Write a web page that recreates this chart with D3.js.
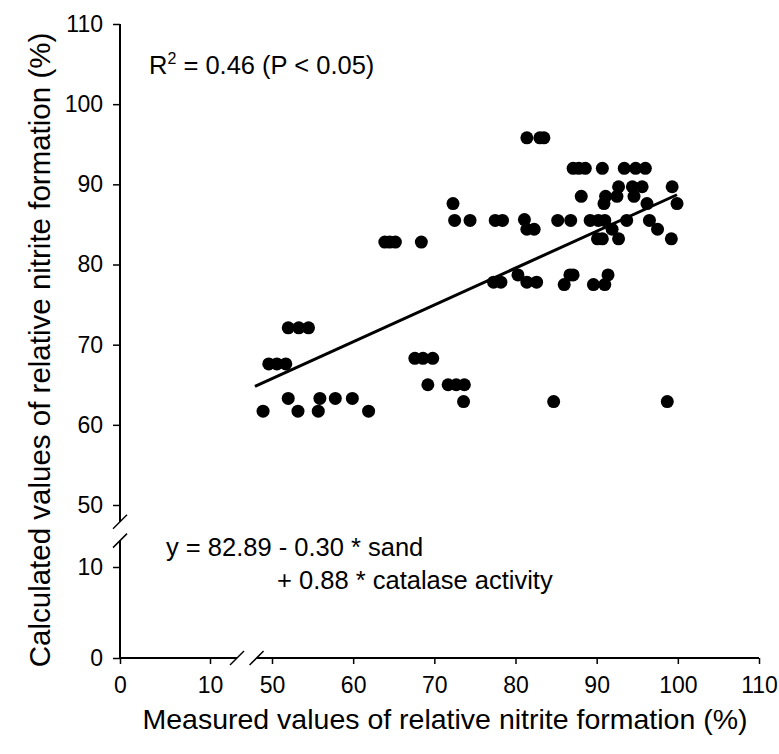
<!DOCTYPE html>
<html>
<head>
<meta charset="utf-8">
<script src="https://cdn.jsdelivr.net/npm/d3@7"></script>
<style>
  html, body { margin: 0; padding: 0; background: #fff; }
  svg { display: block; font-family: "Liberation Sans", Arial, Helvetica, sans-serif; }
</style>
</head>
<body>
<svg id="chart" width="779" height="754"></svg>
<script>
// ---- data ----
const xLowTicks = [0, 10];
const xHighTicks = [50, 60, 70, 80, 90, 100, 110];
const yLowTicks = [0, 10];
const yHighTicks = [50, 60, 70, 80, 90, 100, 110];

const measured = [
  81.4, 83.0, 83.5,
  87.1, 87.8, 88.6, 90.7, 93.4, 94.8, 96.0,
  92.7, 94.4, 95.6, 99.3,
  88.1, 91.1, 92.5, 94.6,
  72.3, 90.9, 96.2, 99.9,
  72.5, 74.4, 77.5, 78.4, 81.1, 85.2, 86.8, 89.2, 90.2, 91.0, 93.7, 96.5,
  81.4, 82.3, 91.9, 97.5,
  90.1, 90.7, 92.7, 99.2,
  63.9, 64.5, 65.2, 68.4,
  80.3, 86.7, 87.1, 91.4,
  77.3, 78.2, 81.4, 82.6,
  86.0, 89.6, 91.0,
  52.0, 53.3, 54.5,
  67.6, 68.6, 69.8,
  49.6, 50.6, 51.7,
  69.2, 71.7, 72.7, 73.7,
  52.0, 55.9, 57.8, 59.9,
  73.6, 84.7, 98.7,
  48.9, 53.2, 55.7, 61.9
];
const calculated = [
  95.8, 95.8, 95.8,
  92.0, 92.0, 92.0, 92.0, 92.0, 92.0, 92.0,
  89.7, 89.7, 89.7, 89.7,
  88.5, 88.5, 88.5, 88.5,
  87.6, 87.6, 87.6, 87.6,
  85.5, 85.5, 85.5, 85.5, 85.6, 85.5, 85.5, 85.5, 85.5, 85.5, 85.5, 85.5,
  84.4, 84.4, 84.4, 84.4,
  83.2, 83.2, 83.2, 83.2,
  82.8, 82.8, 82.8, 82.8,
  78.7, 78.7, 78.7, 78.7,
  77.8, 77.8, 77.8, 77.8,
  77.5, 77.5, 77.5,
  72.1, 72.1, 72.1,
  68.3, 68.3, 68.3,
  67.6, 67.6, 67.6,
  65.0, 65.0, 65.0, 65.0,
  63.3, 63.3, 63.3, 63.3,
  62.9, 62.9, 62.9,
  61.7, 61.7, 61.7, 61.7
];
const fitX = [47.9, 99.9];
const fitY = [64.8, 88.7];

const xTitle = "Measured values of relative nitrite formation (%)";
const yTitle = "Calculated values of relative nitrite formation (%)";
const eqLine1 = "y = 82.89 - 0.30 * sand";
const eqLine2 = "+ 0.88 * catalase activity";

// ---- scales ----
const xLow = d3.scaleLinear().domain([0, 10]).range([120, 210]);
const xHigh = d3.scaleLinear().domain([50, 110]).range([272, 759]);
const yLow = d3.scaleLinear().domain([0, 10]).range([658, 567]);
const yHigh = d3.scaleLinear().domain([50, 110]).range([505, 24]);

const svg = d3.select("#chart");
const tickFont = 23;
const annFont = 25.5;

function styleAxis(g) {
  g.attr("font-size", null).attr("font-family", null);
  g.select(".domain").remove();
  g.selectAll(".tick line").attr("stroke", "#000").attr("stroke-width", 1.5);
  g.selectAll(".tick text").attr("fill", "#000").style("font-size", tickFont + "px");
}

// x axes
svg.append("g").attr("transform", `translate(0,${yLow(0)})`)
  .call(d3.axisBottom(xLow).tickValues(xLowTicks).tickSize(6).tickPadding(13).tickFormat(d3.format("d")))
  .call(styleAxis);
svg.append("g").attr("transform", `translate(0,${yLow(0)})`)
  .call(d3.axisBottom(xHigh).tickValues(xHighTicks).tickSize(6).tickPadding(13).tickFormat(d3.format("d")))
  .call(styleAxis);
// y axes
svg.append("g").attr("transform", `translate(${xLow(0)},0)`)
  .call(d3.axisLeft(yLow).tickValues(yLowTicks).tickSize(7).tickPadding(10).tickFormat(d3.format("d")))
  .call(styleAxis);
svg.append("g").attr("transform", `translate(${xLow(0)},0)`)
  .call(d3.axisLeft(yHigh).tickValues(yHighTicks).tickSize(7).tickPadding(10).tickFormat(d3.format("d")))
  .call(styleAxis);

// axis lines with breaks
const axisLines = svg.append("g").attr("stroke", "#000").attr("stroke-width", 2).attr("fill", "none");
const xBreakL = 13, xBreakR = 48.1, yBreakLow = 12.9, yBreakHigh = 47.9;
axisLines.append("line").attr("x1", xLow(0)).attr("x2", xLow(xBreakL)).attr("y1", yLow(0)).attr("y2", yLow(0));
axisLines.append("line").attr("x1", xHigh(xBreakR)).attr("x2", xHigh(110)).attr("y1", yLow(0)).attr("y2", yLow(0));
axisLines.append("line").attr("x1", xLow(0)).attr("x2", xLow(0)).attr("y1", yLow(0)).attr("y2", yLow(yBreakLow));
axisLines.append("line").attr("x1", xLow(0)).attr("x2", xLow(0)).attr("y1", yHigh(yBreakHigh)).attr("y2", yHigh(110));

// break slashes
const slashes = [
  [xLow(xBreakL), yLow(0)],
  [xHigh(xBreakR), yLow(0)],
  [xLow(0), yLow(yBreakLow)],
  [xLow(0), yHigh(yBreakHigh)]
];
axisLines.selectAll("line.slash").data(slashes).enter().append("line")
  .attr("class", "slash").attr("stroke-width", 1.5)
  .attr("x1", d => d[0] - 7).attr("y1", d => d[1] + 7)
  .attr("x2", d => d[0] + 7).attr("y2", d => d[1] - 7);

// points
svg.append("g").selectAll("circle").data(measured.map((m, i) => [m, calculated[i]]))
  .enter().append("circle")
  .attr("cx", d => xHigh(d[0])).attr("cy", d => yHigh(d[1]))
  .attr("r", 6.5).attr("fill", "#000");

// regression line
svg.append("line")
  .attr("x1", xHigh(fitX[0])).attr("y1", yHigh(fitY[0]))
  .attr("x2", xHigh(fitX[1])).attr("y2", yHigh(fitY[1]))
  .attr("stroke", "#000").attr("stroke-width", 3);

// annotations
const r2 = svg.append("text").attr("x", 149).attr("y", 74).style("font-size", annFont + "px").attr("fill", "#000");
r2.append("tspan").text("R");
r2.append("tspan").attr("dy", -10).style("font-size", "16px").text("2");
r2.append("tspan").attr("dy", 10).text(" = 0.46 (P < 0.05)");

svg.append("text").attr("x", 166).attr("y", 556).style("font-size", annFont + "px").text(eqLine1);
svg.append("text").attr("x", 277).attr("y", 589).style("font-size", annFont + "px").text(eqLine2);

// titles
svg.append("text").attr("x", 445).attr("y", 729).attr("text-anchor", "middle")
  .style("font-size", "28.5px").text(xTitle);
svg.append("text").attr("transform", `translate(50,350) rotate(-90)`).attr("text-anchor", "middle")
  .style("font-size", "29.5px").text(yTitle);
</script>
</body>
</html>
